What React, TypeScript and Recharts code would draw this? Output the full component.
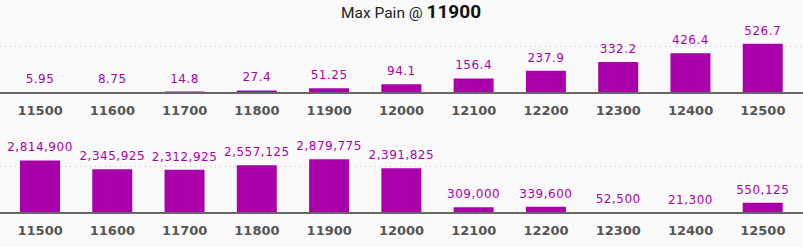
import { BarChart, Bar, XAxis, YAxis, ReferenceLine, LabelList } from "recharts";

const strikes = ["11500", "11600", "11700", "11800", "11900", "12000", "12100", "12200", "12300", "12400", "12500"];
const painValues = [5.95, 8.75, 14.8, 27.4, 51.25, 94.1, 156.4, 237.9, 332.2, 426.4, 526.7];
const oiValues = [2814900, 2345925, 2312925, 2557125, 2879775, 2391825, 309000, 339600, 52500, 21300, 550125];
const painGrid = 500;
const oiGrid = 2500000;
const maxPainStrike = "11900";

const BAR_COLOR = "#aa00aa";
const AXIS_COLOR = "#666";

interface PanelProps {
    values: number[];
    grid: number;
    max: number;
    format: (v: number) => string;
}

function Panel({ values, grid, max, format }: PanelProps) {
    const data = strikes.map((s, i) => ({ strike: s, value: values[i] }));
    return (
        <BarChart width={803} height={120} data={data} margin={{ top: 37, right: 0, left: 0, bottom: 0 }}>
            {/* dotted guide line, kept behind the bars */}
            <ReferenceLine y={grid} stroke="#bbb" strokeDasharray="1 4" zIndex={-100} />
            <XAxis
                dataKey="strike"
                height={27}
                padding={{ left: 4, right: 4 }}
                axisLine={{ stroke: AXIS_COLOR, strokeWidth: 2 }}
                tickLine={false}
                tickSize={6}
                tickMargin={7}
                interval={0}
                tick={{ fill: "#555", fontSize: 13, fontWeight: "bold", fontFamily: "DejaVu Sans" }}
            />
            <YAxis hide domain={[0, max]} />
            <Bar dataKey="value" fill={BAR_COLOR} barSize={40} isAnimationActive={false}>
                <LabelList
                    dataKey="value"
                    position="top"
                    offset={9}
                    formatter={(v: any) => format(Number(v))}
                    style={{ fill: BAR_COLOR, fontSize: 12, fontFamily: "DejaVu Sans", letterSpacing: 0.5 }}
                />
            </Bar>
        </BarChart>
    );
}

export default function App() {
    return (
        <div
            style={{
                position: "absolute",
                left: 0,
                top: 0,
                width: 803,
                height: 247,
                background: "#fafafa",
                fontFamily: "Roboto, sans-serif",
            }}
        >
            <div
                style={{
                    position: "absolute",
                    left: 341,
                    top: 0,
                    whiteSpace: "nowrap",
                    color: "#222",
                    fontSize: 15.5,
                    lineHeight: "normal",
                }}
            >
                Max Pain @ <span style={{ fontWeight: "bold", fontSize: 19, color: "#111" }}>{maxPainStrike}</span>
            </div>
            <div style={{ position: "absolute", left: 0, top: 0 }}>
                <Panel values={painValues} grid={painGrid} max={600} format={(v) => String(v)} />
            </div>
            <div style={{ position: "absolute", left: 0, top: 120 }}>
                <Panel
                    values={oiValues}
                    grid={oiGrid}
                    max={3000000}
                    format={(v) => v.toLocaleString("en-US")}
                />
            </div>
        </div>
    );
}
